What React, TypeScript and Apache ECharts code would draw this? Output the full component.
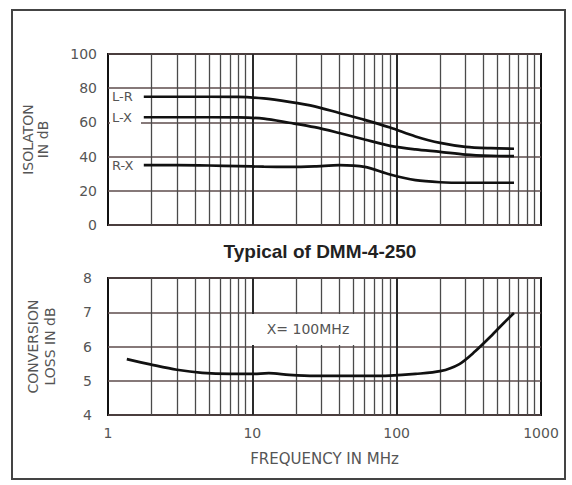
import React, { useEffect, useRef } from 'react';
import * as echarts from 'echarts';

// Isolation curves (frequency MHz, isolation dB)
const FREQ_ISO = [1.77, 3, 5, 8, 12, 18, 27, 40, 60, 90, 135, 200, 300, 450, 650];
const ISO_LR = [75, 75, 75, 74.9, 74, 72, 69.4, 65.5, 61.5, 57, 51.8, 48, 45.7, 44.9, 44.6];
const ISO_LX = [63, 63, 63, 62.9, 62.2, 59.8, 57.2, 53.8, 50, 46.3, 44.2, 42.8, 41.2, 40.5, 40.3];
const ISO_RX = [35, 35, 34.8, 34.4, 34.1, 34, 34.3, 35, 34, 29.5, 26.2, 25, 24.7, 24.7, 24.7];

// Conversion loss (X = 100 MHz)
const FREQ_CL = [1.35, 2, 3, 4.5, 7, 10, 13, 18, 27, 40, 60, 90, 135, 200, 270, 350, 450, 550, 650];
const LOSS_CL = [5.63, 5.47, 5.32, 5.23, 5.2, 5.2, 5.22, 5.17, 5.14, 5.14, 5.14, 5.15, 5.2, 5.28, 5.48, 5.86, 6.3, 6.68, 6.98];

// Log grid lines
const MINOR_FREQS = [2, 3, 4, 5, 6, 7, 8, 9, 20, 30, 40, 50, 60, 70, 80, 90, 200, 300, 400, 500, 600, 700, 800, 900];
const DECADE_FREQS = [10, 100];
const X_TICK_LABELS = ['1', '10', '100', '1000'];

const CURVE_LABELS = ['L-R', 'L-X', 'R-X'];

const pairs = (xs: number[], ys: number[]) => xs.map((x, i) => [x, ys[i]]);

const FONT = 'DejaVu Sans';
const TXT = '#555';
const HGRID = '#5e4c4c';

export default function App() {
  const ref = useRef<HTMLDivElement>(null);
  useEffect(() => {
    const chart = echarts.init(ref.current!, null, { renderer: 'svg' });

    const vLines = {
      silent: true,
      animation: false,
      symbol: ['none', 'none'],
      label: { show: false },
      lineStyle: { type: 'solid', color: '#4a4a4a', width: 1.3 },
      data: [
        ...MINOR_FREQS.map((v) => ({ xAxis: v })),
        ...DECADE_FREQS.map((v) => ({ xAxis: v, lineStyle: { width: 2, color: '#2a2a2a', type: 'solid' } })),
      ],
    };

    const xBase = {
      type: 'log',
      logBase: 10,
      min: 1,
      max: 1000,
      axisTick: { show: false },
      splitLine: { show: false },
      minorSplitLine: { show: false },
      axisLine: { show: false },
    };

    const curve = (name: string, data: number[][], xi: number) => ({
      name,
      type: 'line',
      xAxisIndex: xi,
      yAxisIndex: xi,
      data,
      smooth: 0.3,
      symbol: 'none',
      z: 5,
      lineStyle: { color: '#111', width: 2.7 },
    });

    chart.setOption({
      animation: false,
      backgroundColor: '#fff',
      grid: [
        { left: 108, right: 31, top: 54, height: 171, show: true, borderColor: '#111', borderWidth: 2, backgroundColor: 'transparent' },
        { left: 108, right: 31, top: 278, height: 137, show: true, borderColor: '#111', borderWidth: 2, backgroundColor: 'transparent' },
      ],
      xAxis: [
        { ...xBase, gridIndex: 0, axisLabel: { show: false } },
        {
          ...xBase,
          gridIndex: 1,
          axisLabel: {
            show: true,
            margin: 11,
            color: TXT,
            fontSize: 14,
            fontFamily: FONT,
            formatter: (v: number) => X_TICK_LABELS[Math.round(Math.log10(v))] ?? '',
          },
          name: 'FREQUENCY IN MHz',
          nameLocation: 'middle',
          nameGap: 36,
          nameTextStyle: { color: TXT, fontSize: 15, fontFamily: FONT },
        },
      ],
      yAxis: [
        {
          type: 'value',
          gridIndex: 0,
          min: 0,
          max: 100,
          interval: 20,
          axisLine: { show: false },
          axisTick: { show: false },
          axisLabel: { color: TXT, fontSize: 14, fontFamily: FONT, margin: 11 },
          splitLine: { show: true, lineStyle: { color: HGRID, width: 1.5 } },
          name: 'ISOLATON\nIN dB',
          nameLocation: 'middle',
          nameRotate: 90,
          nameGap: 58,
          nameTextStyle: { color: TXT, fontSize: 14, fontFamily: FONT, lineHeight: 15 },
        },
        {
          type: 'value',
          gridIndex: 1,
          min: 4,
          max: 8,
          interval: 1,
          axisLine: { show: false },
          axisTick: { show: false },
          axisLabel: { color: TXT, fontSize: 14, fontFamily: FONT, margin: 16 },
          splitLine: { show: true, lineStyle: { color: HGRID, width: 1.5 } },
          name: 'CONVERSION\nLOSS IN dB',
          nameLocation: 'middle',
          nameRotate: 90,
          nameGap: 50,
          nameTextStyle: { color: TXT, fontSize: 14, fontFamily: FONT, lineHeight: 17 },
        },
      ],
      series: [
        { type: 'line', xAxisIndex: 0, yAxisIndex: 0, data: [], z: 1, markLine: vLines },
        { type: 'line', xAxisIndex: 1, yAxisIndex: 1, data: [], z: 1, markLine: vLines },
        curve('L-R', pairs(FREQ_ISO, ISO_LR), 0),
        curve('L-X', pairs(FREQ_ISO, ISO_LX), 0),
        curve('R-X', pairs(FREQ_ISO, ISO_RX), 0),
        curve('X=100MHz', pairs(FREQ_CL, LOSS_CL), 1),
      ],
      graphic: [
        { type: 'rect', z: 50, shape: { x: 12, y: 10, width: 553, height: 469 }, style: { fill: 'none', stroke: '#444', lineWidth: 2 } },
        { type: 'rect', z: 50, shape: { x: 110, y: 90, width: 31, height: 65 }, style: { fill: '#fff' } },
        { type: 'rect', z: 50, shape: { x: 110, y: 158, width: 31, height: 15 }, style: { fill: '#fff' } },
        { type: 'text', z: 51, x: 112, y: 96, style: { text: CURVE_LABELS[0], fill: TXT, fontSize: 13, fontFamily: FONT, verticalAlign: 'middle' } },
        { type: 'text', z: 51, x: 112, y: 117, style: { text: CURVE_LABELS[1], fill: TXT, fontSize: 13, fontFamily: FONT, verticalAlign: 'middle' } },
        { type: 'text', z: 51, x: 112, y: 165, style: { text: CURVE_LABELS[2], fill: TXT, fontSize: 13, fontFamily: FONT, verticalAlign: 'middle' } },
        { type: 'rect', z: 50, shape: { x: 251, y: 314, width: 111, height: 31 }, style: { fill: '#fff' } },
        { type: 'text', z: 51, x: 308, y: 329, style: { text: 'X= 100MHz', fill: TXT, fontSize: 14, fontFamily: FONT, align: 'center', verticalAlign: 'middle' } },
        { type: 'text', z: 51, x: 320, y: 251, style: { text: 'Typical of DMM-4-250', fill: '#222', fontSize: 19, fontWeight: 'bold', fontFamily: 'Liberation Sans', align: 'center', verticalAlign: 'middle' } },
      ],
    });
    return () => chart.dispose();
  }, []);
  return <div ref={ref} style={{ position: 'fixed', left: 0, top: 0, width: 572, height: 485, background: '#fff' }} />;
}
